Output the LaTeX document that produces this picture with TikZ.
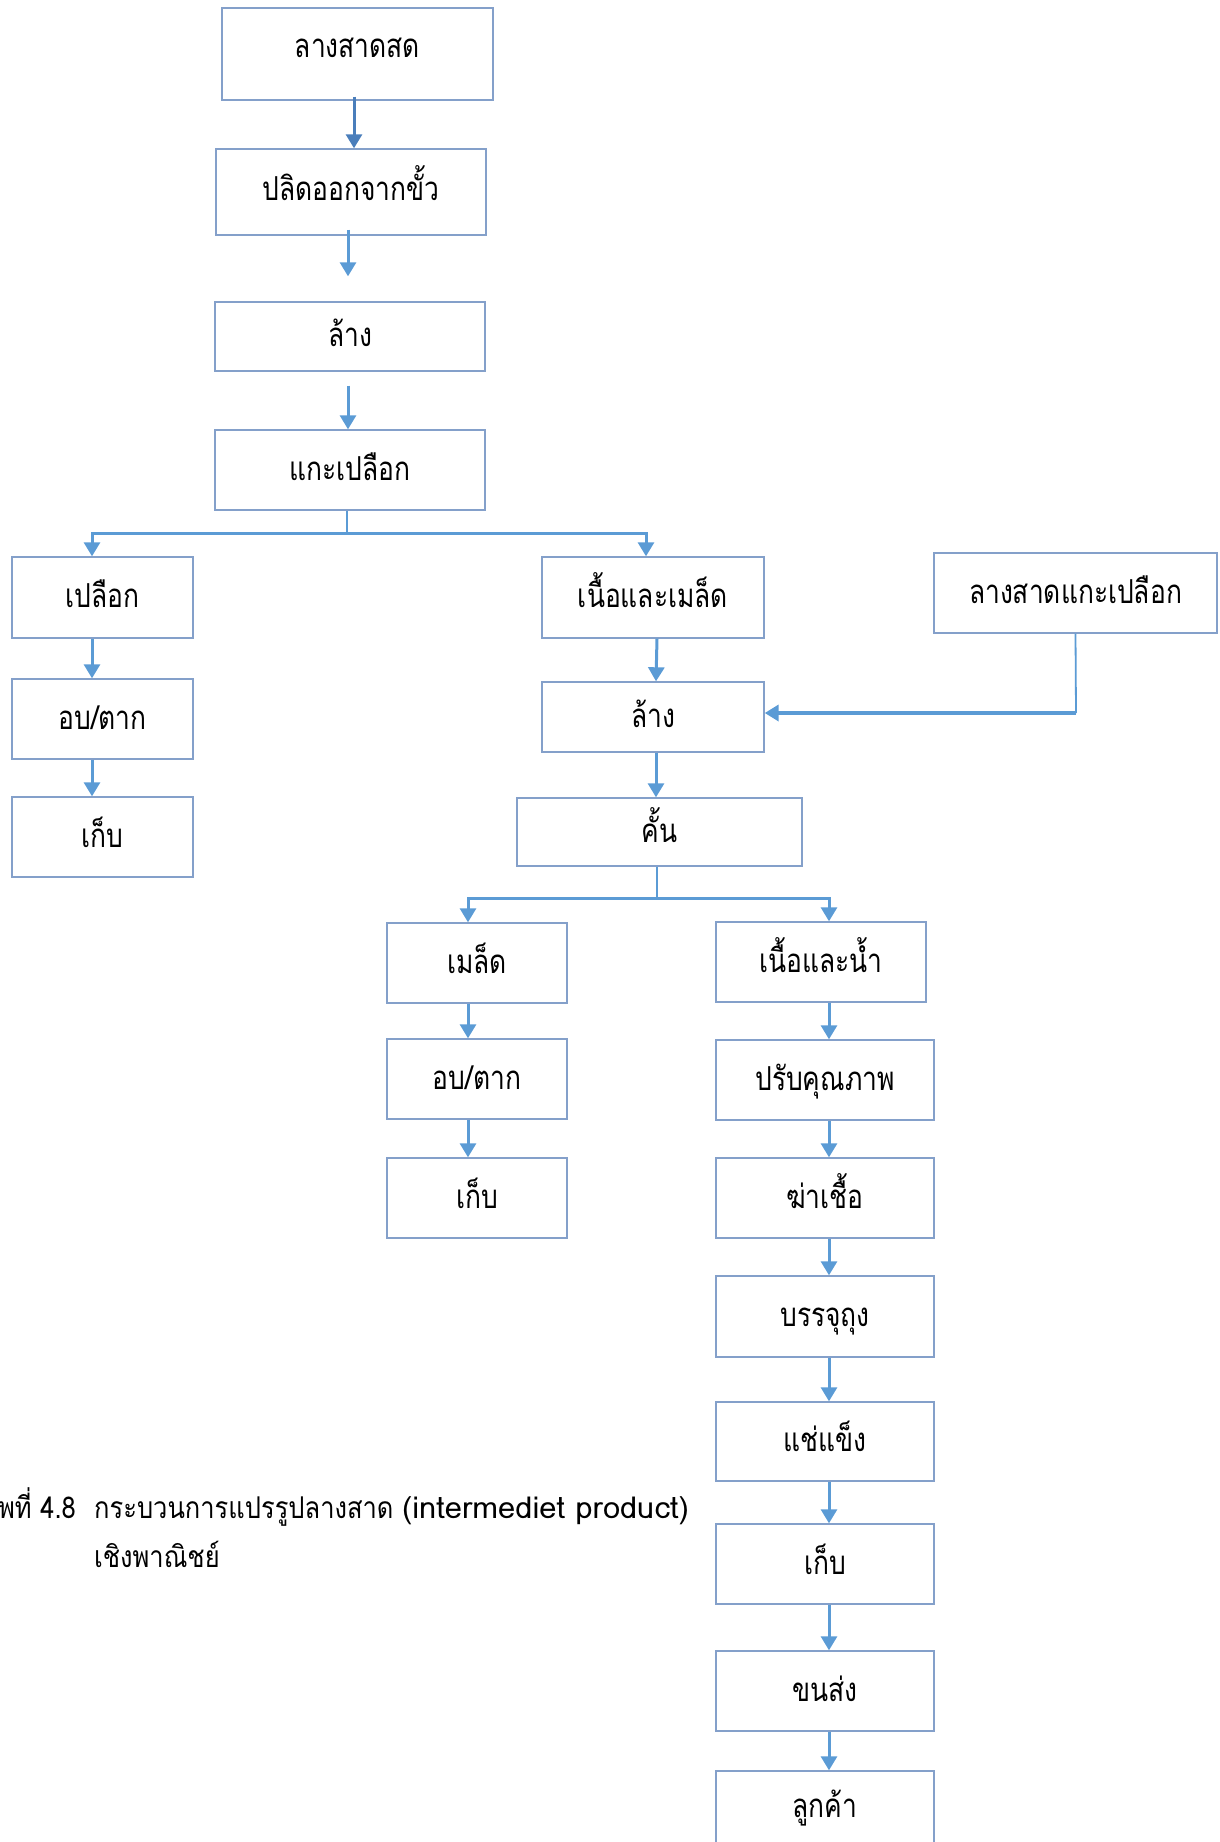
\documentclass[tikz,border=0pt]{standalone}
\usepackage{fontspec}
\usetikzlibrary{arrows.meta,calc}
\newfontfamily\thai[Script=Thai,FakeStretch=0.8]{Loma}
\newfontfamily\thaicap[Script=Thai,FakeStretch=0.85]{Loma}
\newfontfamily\latcap[Script=Thai,FakeStretch=1.03]{Loma}
\definecolor{boxc}{RGB}{132,160,202}
\definecolor{arrc}{RGB}{91,155,213}
\definecolor{arrd}{RGB}{74,126,187}
\newcommand\mybox[7][]{\node[box,minimum width={(#4-#2)*1pt},minimum height={(#5-#3)*1pt},#1] (#6) at ({(#2+#4)/2},{(#3+#5)/2}) {#7};}
\begin{document}
\begin{tikzpicture}[x=1pt,y=-1pt,
  box/.style={draw=boxc,line width=1.4pt,inner sep=0pt,text height=28pt,text depth=8pt,font=\thai\fontsize{33}{38}\selectfont,text=black},
  arr/.style={draw=arrc,line width=3pt,-{Triangle[width=16pt,length=14pt]}},
  ln/.style={draw=arrc,line width=2.5pt},
  captext/.style={font=\thaicap\fontsize{30}{34}\selectfont,inner sep=0pt,text=black}]
\useasboundingbox (0,0) rectangle (1220,1842);
% top chain
\mybox[text height=14pt]{222}{8}{493}{100}{b1}{ลางสาดสด}
\mybox[text height=24pt]{216}{149}{486}{235}{b2}{ปลิดออกจากขั้ว}
\mybox{215}{302}{485}{371}{b3}{ล้าง}
\mybox{215}{430}{485}{510}{b4}{แกะเปลือก}
% left column
\mybox{12}{557}{193}{638}{L1}{เปลือก}
\mybox{12}{679}{193}{759}{L2}{อบ/ตาก}
\mybox{12}{797}{193}{877}{L3}{เก็บ}
% middle
\mybox{542}{557}{764}{638}{M1}{เนื้อและเมล็ด}
\mybox{542}{682}{764}{752}{M2}{ล้าง}
\mybox{934}{553}{1217}{633}{R}{ลางสาดแกะเปลือก}
\mybox{517}{798}{802}{866}{M3}{คั้น}
% seeds column
\mybox{387}{923}{567}{1003}{S1}{เมล็ด}
\mybox{387}{1039}{567}{1119}{S2}{อบ/ตาก}
\mybox{387}{1158}{567}{1238}{S3}{เก็บ}
% flesh column
\mybox{716}{922}{926}{1002}{W1}{เนื้อและน้ำ}
\mybox{716}{1040}{934}{1120}{W2}{ปรับคุณภาพ}
\mybox{716}{1158}{934}{1238}{W3}{ฆ่าเชื้อ}
\mybox{716}{1276}{934}{1357}{W4}{บรรจุถุง}
\mybox{716}{1402}{934}{1481}{W5}{แช่แข็ง}
\mybox{716}{1524}{934}{1604}{W6}{เก็บ}
\mybox{716}{1651}{934}{1731}{W7}{ขนส่ง}
\mybox[text height=4pt,text depth=20pt]{716}{1771}{934}{1880}{W8}{ลูกค้า}
% x guides
\coordinate (lx) at (92,0);
\coordinate (sx) at (468,0);
\coordinate (wx) at (829,0);
% top arrows
\draw[arr,draw=arrd] ([yshift=4pt]b1.south -| 354,0) -- (b2.north -| 354,0) ;
\draw[arr] ([yshift=6pt]b2.south -| 348,0) -- ([yshift=25pt]b3.north -| 348,0);
\draw[arr] ([yshift=-14pt]b3.south -| 348,0) -- (b4.north -| 348,0);
% first split
\coordinate (j1) at (347,533);
\draw[ln] (b4.south -| j1) -- (j1);
\draw[arr,line join=miter] (j1) -| (L1.north -| lx);
\draw[arr,line join=miter] (j1) -| (M1.north -| 646,0);
% left chain
\draw[arr] (L1.south -| lx) -- (L2.north -| lx);
\draw[arr] (L2.south -| lx) -- (L3.north -| lx);
% middle chain
\draw[arr] (M1.south -| 657,0) -- (M2.north -| 656,0);
\coordinate (rc) at (1076,713);
\draw[draw=arrc,line width=1.8pt] (R.south) -- (rc);
\draw[arr,line width=3.5pt] (rc) -- (M2.east |- rc);
\draw[arr] (M2.south -| 656,0) -- (M3.north -| 656,0);
% second split
\coordinate (j2) at (657,898);
\draw[ln] (M3.south -| j2) -- (j2);
\draw[arr,line join=miter] (j2) -| (S1.north -| sx);
\draw[arr,line join=miter] (j2) -| (W1.north -| wx);
% seeds chain
\draw[arr] (S1.south -| sx) -- (S2.north -| sx);
\draw[arr] (S2.south -| sx) -- (S3.north -| sx);
% flesh chain
\draw[arr] (W1.south -| wx) -- (W2.north -| wx);
\draw[arr] (W2.south -| wx) -- (W3.north -| wx);
\draw[arr] (W3.south -| wx) -- (W4.north -| wx);
\draw[arr] (W4.south -| wx) -- (W5.north -| wx);
\draw[arr] (W5.south -| wx) -- (W6.north -| wx);
\draw[arr] (W6.south -| wx) -- (W7.north -| wx);
\draw[arr] (W7.south -| wx) -- (W8.north -| wx);
% caption
\node[captext,anchor=base east] (cap1) at (76,1518) {ภาพที่ 4.8};
\node[captext,anchor=base west] (cap2) at (94,1518) {กระบวนการแปรรูปลางสาด {\latcap(intermediet product)}};
\node[captext,anchor=base west] (cap3) at (94,1567) {เชิงพาณิชย์};
\end{tikzpicture}
\end{document}
